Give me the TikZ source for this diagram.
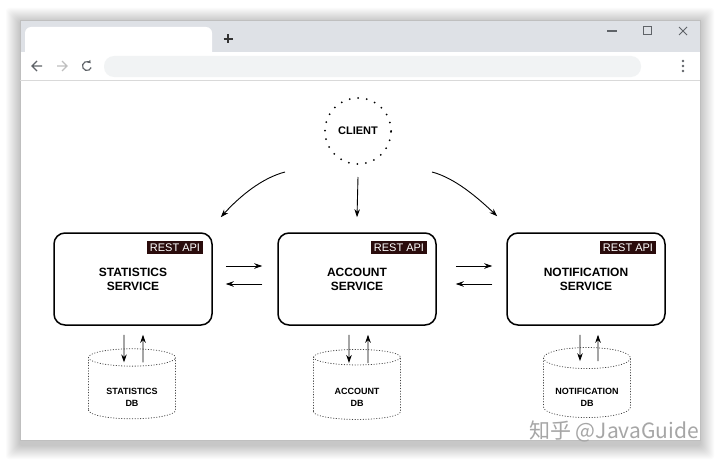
\documentclass[tikz,border=0pt]{standalone}
\usepackage{fontspec}
\setmainfont{Liberation Sans}
\newfontfamily\cjkfont{Noto Sans CJK SC}
\usetikzlibrary{shapes.geometric, arrows.meta, positioning}

\definecolor{tabgray}{HTML}{DEE1E6}
\definecolor{bargray}{HTML}{F1F3F4}
\definecolor{icongray}{HTML}{5F6368}
\definecolor{apibrown}{HTML}{2A0C0C}

% db label sits a little below the middle of the cylinder
\newcommand{\dbname}[1]{\raisebox{-8pt}[\height][\depth]{\begin{tabular}{@{}c@{}}#1\end{tabular}}}

\begin{document}
\begin{tikzpicture}[x=1pt, y=-1pt,
    service/.style={rectangle, draw, line width=1.5pt, rounded corners=11pt, minimum width=158pt, minimum height=92pt, align=center, font=\fontsize{12}{14}\selectfont\bfseries},
    api/.style={fill=apibrown, text=white, inner xsep=2.5pt, inner ysep=2.5pt, text height=8pt, text depth=0pt, font=\fontsize{11}{12}\selectfont},
    db/.style={cylinder, shape border rotate=90, aspect=0.3, draw=black!75, line width=0.8pt, dash pattern=on 0.5pt off 2.2pt, line cap=round, minimum width=87pt, minimum height=70pt, font=\fontsize{9}{12}\selectfont\bfseries},
    client/.style={circle, draw, line width=2pt, line cap=round, dash pattern=on 0pt off 8.6pt, minimum size=66pt, font=\fontsize{11}{12}\selectfont\bfseries},
    arrow/.style={-{Stealth[length=8pt, width=5.5pt]}, line width=0.9pt},
    icon/.style={draw=icongray, line width=1.2pt}
]
    \useasboundingbox (0,0) rectangle (720,460);
    \fill[white] (0,0) rectangle (720,460);

    % Window
    \foreach \s in {1,...,14}
        \fill[black, opacity=0.014, rounded corners=3pt] (20-\s,22-\s) rectangle (700+\s,445+\s);
    \fill[tabgray] (20,20) rectangle (700,52);
    \fill[white, rounded corners=6pt] (25,27) rectangle (212,60);
    \fill[white] (20,52) rectangle (700,440);
    \draw[black!25, line width=0.6pt] (20,20) rectangle (700,440);
    \draw[black!15] (20,80.5) -- (700,80.5);
    \fill[bargray, rounded corners=10pt] (104,56) rectangle (641,77);

    % Icons
    \draw[icon, draw=black!80] (223.5,39) -- (232.5,39) (228,34.5) -- (228,43.5);
    \draw[icon] (607,31) -- (617,31);
    \draw[icon, line width=1pt] (643,27) rectangle (651,35);
    \draw[icon, line width=1pt] (679,27) -- (687,35) (687,27) -- (679,35);
    \draw[icon] (42,66) -- (32,66) (37,61) -- (32,66) -- (37,71);
    \draw[icon, draw=black!25] (57,66) -- (67,66) (62,61) -- (67,66) -- (62,71);
    \draw[icon, -{Triangle[length=2.5pt, width=4pt]}] ([shift={(20:4.5)}]87,66) arc (20:320:4.5);
    \foreach \yy in {61,66,71}
        \fill[icongray] (683,\yy) circle (1.3);

    % Nodes
    \node[client] (client) at (358,131) {CLIENT};
    \node[service] (stat) at (133,279) {STATISTICS\\SERVICE};
    \node[service] (acc) at (357,279) {ACCOUNT\\SERVICE};
    \node[service] (notif) at (586,279) {NOTIFICATION\\SERVICE};
    \node[api, anchor=north east] (statapi) at ([xshift=-10pt, yshift=-9pt]stat.north east) {REST API};
    \node[api, anchor=north east] (accapi) at ([xshift=-10pt, yshift=-9pt]acc.north east) {REST API};
    \node[api, anchor=north east] (notifapi) at ([xshift=-10pt, yshift=-9pt]notif.north east) {REST API};
    \node[db] (statdb) at (132,390) {\dbname{STATISTICS\\DB}};
    \node[db] (accdb) at (357,390) {\dbname{ACCOUNT\\DB}};
    \node[db] (notifdb) at (587,390) {\dbname{NOTIFICATION\\DB}};
    \node[text=black!35, font=\cjkfont\fontsize{21}{24}\selectfont] (mark) at (614,431) {知乎 @JavaGuide};

    % Arrows
    \draw[arrow] ([xshift=-73pt, yshift=-41pt]client.center) .. controls (262,178) and (240,196) .. ([xshift=8pt, yshift=15pt]stat.north east);
    \draw[arrow] ([yshift=-12pt]client.south) -- ([yshift=15pt]acc.north);
    \draw[arrow] ([xshift=74pt, yshift=-41pt]client.center) .. controls (455,178) and (478,198) .. ([xshift=-9pt, yshift=16pt]notif.north west);
    \draw[arrow] ([xshift=13pt, yshift=13pt]stat.east) -- ([xshift=-15pt, yshift=13pt]acc.west);
    \draw[arrow] ([xshift=-15pt, yshift=-5pt]acc.west) -- ([xshift=13pt, yshift=-5pt]stat.east);
    \draw[arrow] ([xshift=19pt, yshift=13pt]acc.east) -- ([xshift=-14pt, yshift=13pt]notif.west);
    \draw[arrow] ([xshift=-14pt, yshift=-5pt]notif.west) -- ([xshift=19pt, yshift=-5pt]acc.east);
    \draw[arrow] ([xshift=-9pt, yshift=-9pt]stat.south) -- ([xshift=-8pt, yshift=-14pt]statdb.north);
    \draw[arrow] ([xshift=11pt, yshift=-14pt]statdb.north) -- ([xshift=10pt, yshift=-9pt]stat.south);
    \draw[arrow] ([xshift=-8pt, yshift=-9pt]acc.south) -- ([xshift=-8pt, yshift=-14pt]accdb.north);
    \draw[arrow] ([xshift=11pt, yshift=-14pt]accdb.north) -- ([xshift=11pt, yshift=-9pt]acc.south);
    \draw[arrow] ([xshift=-6pt, yshift=-9pt]notif.south) -- ([xshift=-7pt, yshift=-14pt]notifdb.north);
    \draw[arrow] ([xshift=11pt, yshift=-14pt]notifdb.north) -- ([xshift=12pt, yshift=-9pt]notif.south);
\end{tikzpicture}
\end{document}
